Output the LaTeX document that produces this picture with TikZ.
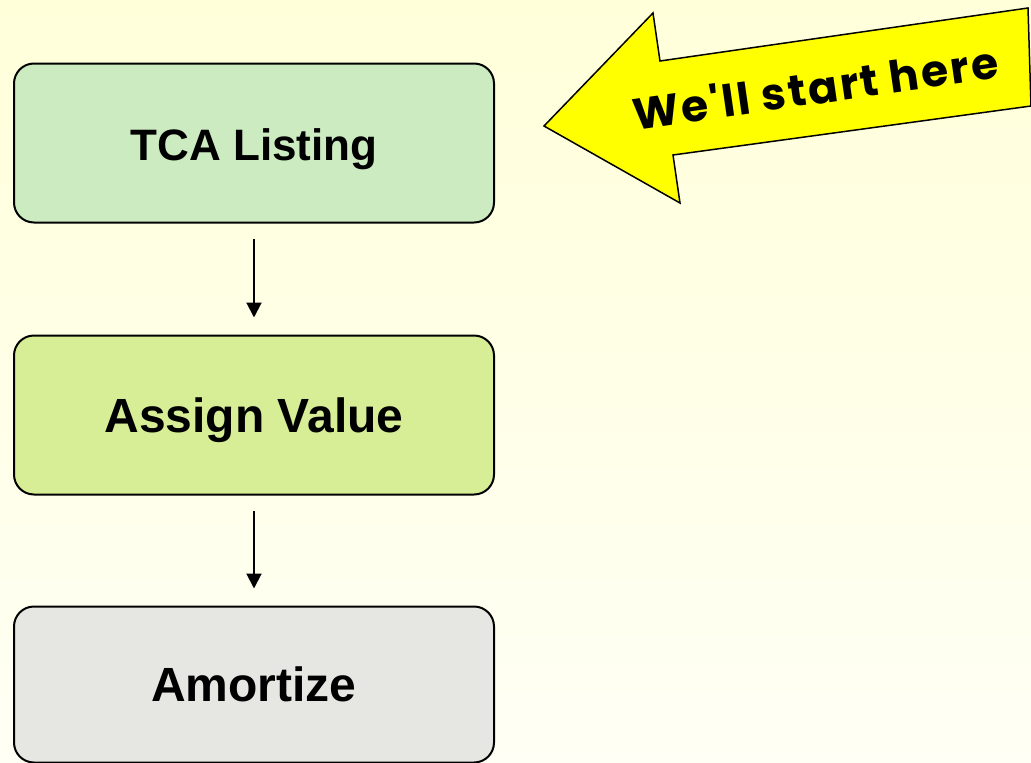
\documentclass[tikz,border=0pt]{standalone}
\usepackage{fontspec}
\setmainfont{Liberation Sans}
\newfontfamily\comicfont[Ligatures=TeXOff, LetterSpace=5]{Poppins}
\usetikzlibrary{arrows.meta}
\definecolor{bgtop}{HTML}{FFFFDA}
\definecolor{bgbot}{HTML}{FFFFF5}
\definecolor{greenbox}{HTML}{CDEBC1}
\definecolor{limebox}{HTML}{D8EE96}
\definecolor{graybox}{HTML}{E6E6E3}
\definecolor{arrowyellow}{HTML}{FFFF00}
\tikzset{
  x=1pt, y=-1pt,
  stepbox/.style={draw=black, line width=2pt, rounded corners=20pt,
    minimum width=480pt, minimum height=159pt, inner sep=0pt,
    text height=34pt, text depth=0pt,
    font=\fontsize{48}{50}\selectfont\bfseries},
  flow/.style={-{Triangle[length=15pt,width=15pt]}, line width=2pt,
    shorten <=15pt, shorten >=17pt},
  callout/.style={draw=black, line width=1.5pt, fill=arrowyellow, line join=miter}
}
\begin{document}
\begin{tikzpicture}
\shade[top color=bgtop, bottom color=bgbot] (0,0) rectangle (1031,763);
\useasboundingbox (0,0) rectangle (1031,763);
\node[stepbox, fill=greenbox, font=\fontsize{44}{50}\selectfont\bfseries] (tca) at (254,143) {TCA Listing};
\node[stepbox, fill=limebox] (assign) at (254,415) {Assign Value};
\node[stepbox, fill=graybox, minimum height=156pt] (amort) at (254,684.5) {Amortize};
\draw[flow] (tca.south) -- (assign.north);
\draw[flow] (assign.south) -- (amort.north);
\draw[callout] (544,126) -- (653,13) -- (660,61) -- (1028,8) -- (1031,106)
  -- (673,155) -- (680,203) -- cycle;
\node[rotate=8.2, anchor=base, font=\comicfont\fontsize{44}{50}\selectfont\bfseries, inner sep=0pt]
  (start) at (818,104) {We'll start here};
\end{tikzpicture}
\end{document}
